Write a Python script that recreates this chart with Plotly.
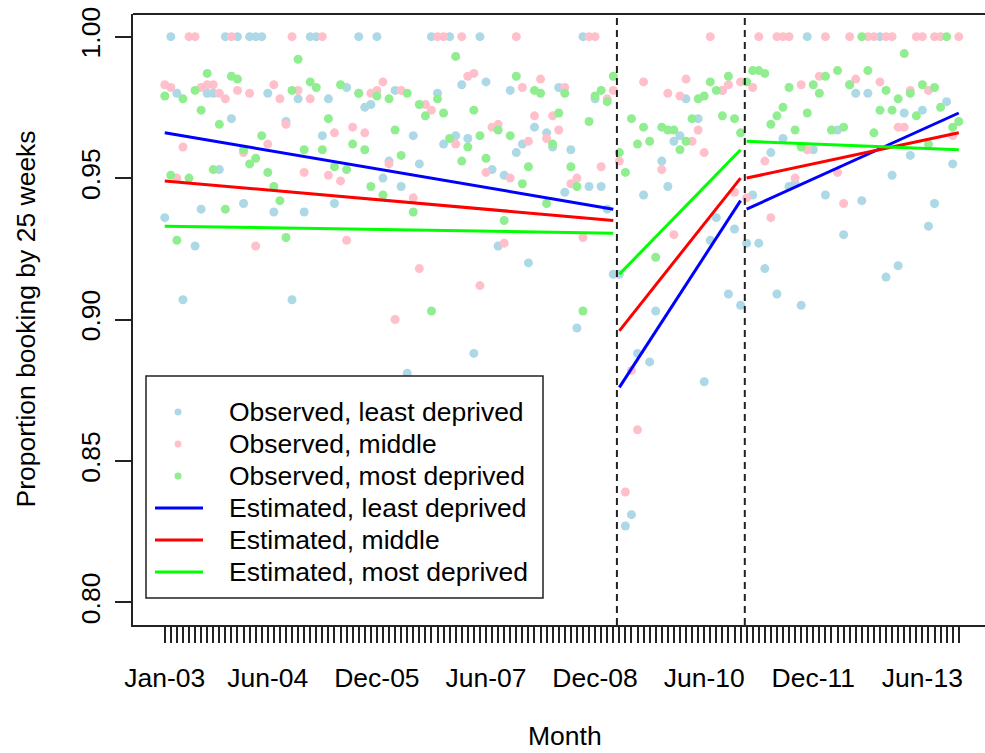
import plotly.graph_objects as go

# ---------------- data ----------------
months = list(range(132))  # Jan-03 .. Dec-13
tick_pos = [0, 17, 35, 53, 71, 89, 107, 125]
tick_lab = ["Jan-03", "Jun-04", "Dec-05", "Jun-07", "Dec-08", "Jun-10", "Dec-11", "Jun-13"]
break_pos = [74.6, 95.7]

N = None
obs_least = [
    .936, 1.0, .980, .907, N, .926, .939, .980, .980, .953, 1.0, .971,
    1.0, .941, 1.0, 1.0, 1.0, .980, .938, N, .970, .907, .978, .938,
    1.0, 1.0, .965, .978, .941, N, .982, N, 1.0, .975, .976, 1.0,
    .950, .956, .981, .947, .881, .965, .955, N, 1.0, .980, .962, 1.0,
    .965, .983, .964, .888, 1.0, .984, .953, .926, .951, .981, .959, .962,
    .920, .968, N, .966, .961, .982, .945, .960, .897, 1.0, .947, .978,
    .947, .939, .916, .916, .827, .831, .888, .944, .885, .903, .956, .947,
    .963, .965, .978, N, .971, .878, .928, .936, .981, .909, .932, .905,
    .927, .944, .927, .918, .959, .909, .964, .947, .948, .905, 1.0, .960,
    N, .944, N, .967, .930, .983, .980, .942, .980, N, 1.0, .915,
    .951, .919, .973, .958, N, .974, .933, .941, N, .977, .955, N,
]
obs_middle = [
    .983, .982, .950, .961, 1.0, 1.0, .982, .983, .983, .980, .978, 1.0,
    .981, .959, .980, .926, N, .962, .983, .978, .969, 1.0, .981, .952,
    .978, N, 1.0, .951, .966, .949, .928, .968, .980, .966, .980, .981,
    .984, .955, .900, .981, N, .943, .918, .976, .974, 1.0, 1.0, N,
    .962, 1.0, .986, .987, .912, .952, .968, .969, .927, .950, 1.0, .982,
    .963, .972, .985, .964, .972, .967, .982, .948, .950, .929, 1.0, 1.0,
    .954, .978, .981, .956, .839, .882, .861, .984, N, N, .953, .980,
    .930, .979, .985, .963, .967, .959, 1.0, N, .981, .983, .945, .984,
    .943, .982, 1.0, .956, .936, 1.0, 1.0, 1.0, .950, .983, .960, N,
    .986, 1.0, N, .952, .941, 1.0, .985, N, 1.0, 1.0, .984, 1.0,
    1.0, .968, .968, .981, 1.0, 1.0, .981, 1.0, 1.0, N, .965, 1.0,
]
obs_most = [
    .979, .951, .928, .978, .950, .981, .974, .987, .953, .969, .939, .986,
    .985, .960, .955, .957, .965, .952, .947, .942, .929, .981, .992, .960,
    .984, .982, .960, .971, .954, .983, .953, .962, .980, .960, .947, .979,
    .944, .978, .967, .958, .980, .938, .976, .972, .903, .978, .973, .964,
    .993, .956, .961, .974, .965, .957, N, .967, .935, .965, .986, .948,
    .954, .981, .980, .941, .962, .973, .980, .954, .947, .903, .970, .979,
    .981, .977, .986, .959, .952, .971, .962, .968, .963, .922, .968, .967,
    .967, .960, .963, .971, .978, .979, .984, .981, .972, .986, .971, .966,
    .984, .988, .988, .987, .969, .972, .975, .982, .967, .961, .973, .983,
    .980, .986, .967, .988, .968, .983, N, 1.0, .988, .966, .974, .981,
    .974, .978, .994, .980, .972, .983, .962, .982, .975, 1.0, .968, .970,
]

# fitted segments (start / end month of each segment, and fitted values there)
seg_start = [0, 75, 96]
seg_end = [74, 95, 131]
fit_least_start = [0.966, 0.876, 0.939]
fit_least_end = [0.939, 0.942, 0.973]
fit_middle_start = [0.949, 0.896, 0.950]
fit_middle_end = [0.935, 0.950, 0.966]
fit_most_start = [0.933, 0.916, 0.963]
fit_most_end = [0.9305, 0.960, 0.960]

series_names = ["Observed, least deprived", "Observed, middle", "Observed, most deprived",
                "Estimated, least deprived", "Estimated, middle", "Estimated, most deprived"]
obs_colors = ["#ADD8E6", "#FFC0CB", "#90EE90"]
fit_colors = ["#0000FF", "#FF0000", "#00FF00"]

# ---------------- figure ----------------
FONT = "Liberation Sans, Arial, sans-serif"
FS = 26.5
W, H = 985, 753
ML, MT, MB = 133, 14, 128
PW = W - ML
PH = H - MT - MB


def px(X):
    return (X - ML) / PW


def py(Y):
    return (H - MB - Y) / PH


fig = go.Figure()


def seg_xy(starts, ends):
    xs, ys = [], []
    for s, e, vs, ve in zip(seg_start, seg_end, starts, ends):
        xs += [s, e, None]
        ys += [vs, ve, None]
    return xs, ys


for name, vals, col in zip(series_names[:3], [obs_least, obs_middle, obs_most], obs_colors):
    fig.add_trace(go.Scatter(x=months, y=vals, mode="markers", name=name, showlegend=False,
                             marker=dict(color=col, size=9, line=dict(width=0))))

for name, st, en, col in zip(series_names[3:],
                             [fit_least_start, fit_middle_start, fit_most_start],
                             [fit_least_end, fit_middle_end, fit_most_end], fit_colors):
    xs, ys = seg_xy(st, en)
    fig.add_trace(go.Scatter(x=xs, y=ys, mode="lines", name=name, showlegend=False,
                             line=dict(color=col, width=3)))

ticktext = [""] * len(months)
for p, l in zip(tick_pos, tick_lab):
    ticktext[p] = l

shapes = [dict(type="line", xref="paper", yref="paper", x0=0, x1=1, y0=1, y1=1,
               line=dict(color="#222", width=2))]
for b in break_pos:
    shapes.append(dict(type="line", xref="x", yref="paper", x0=b, x1=b, y0=0, y1=1,
                       line=dict(color="#222", width=2, dash="7px,5px")))

# legend (drawn like R's legend box)
annotations = []
LX0, LX1, LY0, LY1 = 146, 543, 376, 598
shapes.append(dict(type="rect", xref="paper", yref="paper", x0=px(LX0), x1=px(LX1),
                   y0=py(LY1), y1=py(LY0), line=dict(color="#222", width=1.5),
                   fillcolor="white", layer="above"))
row_y = [412 + 32 * i for i in range(6)]
for i, name in enumerate(series_names):
    yy = row_y[i]
    if i < 3:
        r = 3.5
        shapes.append(dict(type="circle", xref="paper", yref="paper",
                           x0=px(178 - r), x1=px(178 + r), y0=py(yy + r), y1=py(yy - r),
                           line=dict(width=0), fillcolor=obs_colors[i], layer="above"))
    else:
        shapes.append(dict(type="line", xref="paper", yref="paper",
                           x0=px(155), x1=px(203), y0=py(yy), y1=py(yy),
                           line=dict(color=fit_colors[i - 3], width=3), layer="above"))
    annotations.append(dict(text=name, xref="paper", yref="paper", x=px(227), y=py(yy),
                            xanchor="left", yanchor="middle", showarrow=False,
                            font=dict(size=FS, color="black")))

annotations += [
    dict(text="Month", xref="paper", yref="paper", x=px(565), y=py(736),
         xanchor="center", yanchor="middle", showarrow=False, font=dict(size=FS)),
    dict(text="Proportion booking by 25 weeks", xref="paper", yref="paper",
         x=px(25), y=0.5, xanchor="center", yanchor="middle",
         textangle=-90, showarrow=False, font=dict(size=FS)),
]

fig.update_layout(
    width=W, height=H,
    margin=dict(l=ML, r=0, t=MT, b=MB),
    plot_bgcolor="white", paper_bgcolor="white",
    font=dict(family=FONT, size=FS, color="black"),
    showlegend=False,
    xaxis=dict(range=[-5.24, 135.33], showgrid=False, zeroline=False,
               showline=True, linecolor="#222", linewidth=2,
               ticks="outside", ticklen=16, tickwidth=1.5, tickcolor="#222",
               tickmode="array", tickvals=months, ticktext=ticktext,
               tickfont=dict(size=FS), ticklabelstandoff=12),
    yaxis=dict(range=[0.792, 1.008], showgrid=False, zeroline=False,
               showline=True, linecolor="#222", linewidth=2,
               ticks="outside", ticklen=16, tickwidth=1.5, tickcolor="#222",
               tickmode="array", tickvals=[0.80, 0.85, 0.90, 0.95, 1.00],
               ticktext=["0.80", "0.85", "0.90", "0.95", "1.00"],
               tickangle=-90, tickfont=dict(size=FS), ticklabelstandoff=4),
    shapes=shapes,
    annotations=annotations,
)

fig.write_html("out.html")
